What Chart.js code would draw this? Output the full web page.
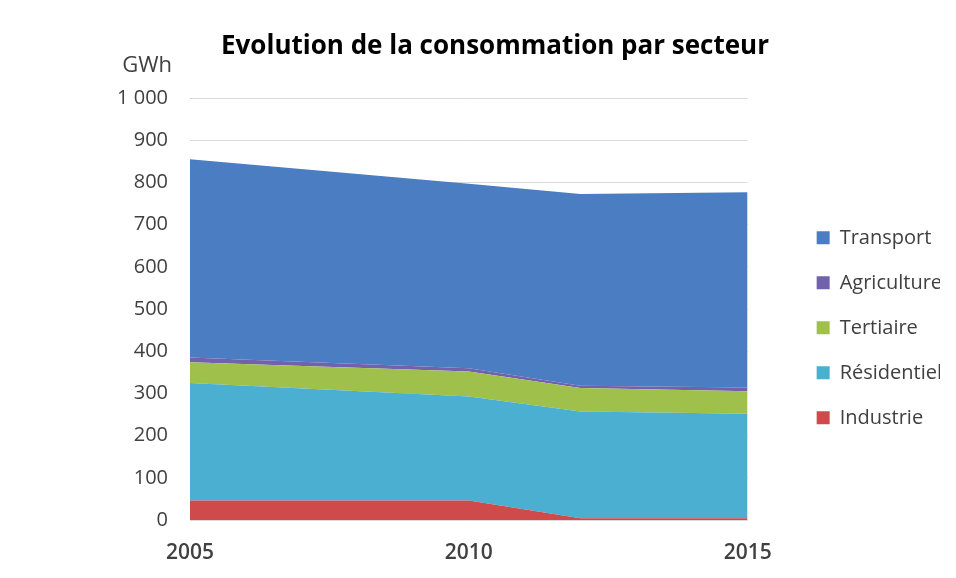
<!DOCTYPE html>
<html>
<head>
<meta charset="utf-8">
<script src="https://cdn.jsdelivr.net/npm/chart.js@4/dist/chart.umd.min.js"></script>
<style>
  body { margin: 0; background: #fff; }
  #wrap { width: 956px; height: 578px; position: relative; }
</style>
</head>
<body>
<div id="wrap"><canvas id="consoChart" width="956" height="578"></canvas></div>
<script>
'use strict'

// années des points de données
const years = [2005, 2010, 2012, 2015];

// consommation par secteur (GWh)
const industrie = [46, 46, 4, 4];
const residentiel = [279, 247, 253, 248];
const tertiaire = [49, 59, 56, 53];
const agriculture = [11, 8, 5, 9];
const transport = [470, 437, 455, 463];

const xTicks = [2005, 2010, 2015];

const series = [
    { label: 'Industrie', values: industrie, color: '#cf4a4a' },
    { label: 'Résidentiel', values: residentiel, color: '#4aafd0' },
    { label: 'Tertiaire', values: tertiaire, color: '#9fc04a' },
    { label: 'Agriculture', values: agriculture, color: '#7262ad' },
    { label: 'Transport', values: transport, color: '#4a7dc2' }
];

const font = '"Open Sans", sans-serif';

const gwhLabel = {
    id: 'gwhLabel',
    afterDraw(chart) {
        const ctx = chart.ctx;
        ctx.save();
        ctx.font = '22px ' + font;
        ctx.fillStyle = '#404040';
        ctx.textAlign = 'right';
        ctx.textBaseline = 'middle';
        ctx.fillText('GWh', chart.chartArea.left - 18, chart.chartArea.top - 32);
        ctx.restore();
    }
};

const ctx = document.getElementById('consoChart').getContext('2d');
const myChart = new Chart(ctx, {
    type: 'line',
    data: {
        datasets: series.map((s, i) => ({
            label: s.label,
            data: years.map((y, j) => ({ x: y, y: s.values[j] })),
            backgroundColor: s.color,
            borderColor: s.color,
            borderWidth: 0,
            pointRadius: 0,
            fill: i === 0 ? 'origin' : '-1',
            tension: 0
        }))
    },
    options: {
        responsive: false,
        animation: false,
        layout: { padding: { left: 50, right: 16, top: 14, bottom: 14 } },
        plugins: {
            title: {
                display: true,
                text: 'Evolution de la consommation par secteur',
                color: '#000',
                font: { family: font, size: 26, weight: 'bold' },
                padding: { top: 17, bottom: 36 }
            },
            legend: {
                position: 'right',
                reverse: true,
                title: {
                    display: true,
                    text: ' ',
                    font: { size: 8 },
                    padding: { top: 0, bottom: 68 }
                },
                labels: {
                    color: '#404040',
                    font: { family: font, size: 20 },
                    boxWidth: 13,
                    boxHeight: 13,
                    padding: 25,
                    // un peu de marge pour que le texte ne soit pas coupé
                    generateLabels: (chart) => Chart.defaults.plugins.legend.labels.generateLabels(chart)
                        .map(item => ({ ...item, text: item.text + '\u00a0\u00a0' }))
                }
            },
            tooltip: { enabled: false }
        },
        scales: {
            x: {
                type: 'linear',
                min: 2005,
                max: 2015,
                afterBuildTicks: (axis) => { axis.ticks = xTicks.map(v => ({ value: v })); },
                afterFit: (scale) => { scale.height = 44; },
                grid: { display: false },
                border: { display: false },
                ticks: {
                    color: '#404040',
                    font: { family: font, size: 21, weight: '600' },
                    callback: (v) => String(v),
                    maxRotation: 0,
                    padding: 12
                }
            },
            y: {
                stacked: true,
                min: 0,
                max: 1000,
                afterFit: (scale) => { scale.width = 140; },
                grid: { color: '#d9d9d9', drawTicks: false },
                border: { display: false },
                ticks: {
                    stepSize: 100,
                    color: '#404040',
                    font: { family: font, size: 20 },
                    padding: 22,
                    callback: (v) => v >= 1000 ? '1 000' : String(v)
                }
            },
            // axe vide servant d'espace entre le graphique et la légende
            ySpace: {
                type: 'linear',
                position: 'right',
                afterFit: (scale) => { scale.width = 44; },
                grid: { display: false },
                border: { display: false },
                ticks: { display: false }
            }
        }
    },
    plugins: [gwhLabel]
});
</script>
</body>
</html>
